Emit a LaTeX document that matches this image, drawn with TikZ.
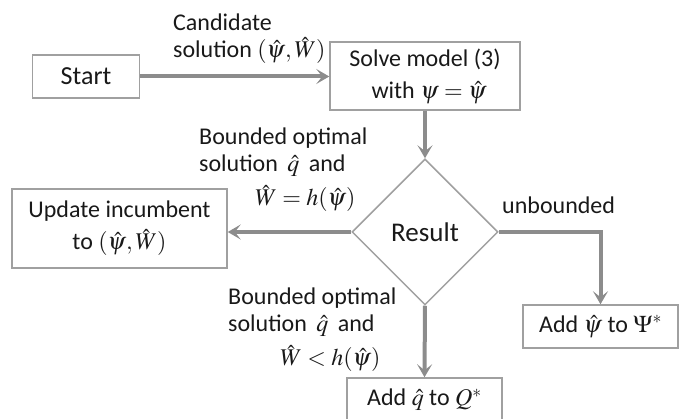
\documentclass[tikz,border=0pt]{standalone}
\usepackage{mathptmx}
\usepackage{fontspec}
\setmainfont{Carlito}
\usetikzlibrary{shapes.geometric,arrows.meta}
\definecolor{boxc}{RGB}{160,160,160}
\definecolor{arrc}{RGB}{140,140,140}
\definecolor{txt}{RGB}{25,25,25}
\begin{document}
\begin{tikzpicture}[x=1pt,y=-1pt,
  every node/.style={text=txt,font=\fontsize{24}{32}\selectfont},
  box/.style={draw=boxc,line width=1.5pt,rectangle,inner sep=0pt,align=center},
  flow/.style={draw=arrc,line width=4pt,-{Stealth[length=13pt,width=15pt,inset=6pt]}},
  lbl/.style={anchor=base west,inner sep=0pt}]
\useasboundingbox (0,0) rectangle (681,419);
\node[box,minimum width=107pt,minimum height=43pt,font=\fontsize{26}{32}\selectfont] (start) at (86,76.5) {Start};
\node[box,minimum width=190pt,minimum height=68pt] (solve) at (425,76) {Solve model (3)\\ \hspace*{8pt}with $\psi=\hat{\psi}$};
\node[diamond,draw=boxc,line width=1.5pt,minimum width=146pt,minimum height=146pt,inner sep=0pt,font=\fontsize{27}{32}\selectfont] (res) at (425,232) {Result};
\node[box,minimum width=215pt,minimum height=79pt] (upd) at (119.5,228.5) {Update incumbent\\ to $(\hat{\psi},\hat{W})$};
\node[box,minimum width=155pt,minimum height=43pt] (addpsi) at (600.5,326.5) {Add $\hat{\psi}$ to $\Psi^{*}$};
\node[box,minimum width=155pt,minimum height=44pt] (addq) at (424.5,400) {Add $\hat{q}$ to $Q^{*}$};

\draw[flow] (start.east) -- (start.east -| solve.west);
\draw[flow] (solve.south) -- (res.north);
\draw[flow] (res.west) -- (res.west -| upd.east);
\draw[flow] (res.east) -| (addpsi.north);
\draw[flow] (res.south) -- (addq.north);

\node[lbl] (c1) at (173,31) {Candidate};
\node[lbl] (c2) at (173,58) {solution $(\hat{\psi},\hat{W})$};
\node[lbl] (b1) at (199,145) {Bounded optimal};
\node[lbl] (b2) at (199,172) {solution \,$\hat{q}$\, and};
\node[lbl] (b3) at (255,206) {$\hat{W}=h(\hat{\psi})$};
\node[lbl] (u1) at (502,214) {unbounded};
\node[lbl] (d1) at (228,305) {Bounded optimal};
\node[lbl] (d2) at (228,332) {solution \,$\hat{q}$\, and};
\node[lbl] (d3) at (280,366) {$\hat{W}<h(\hat{\psi})$};
\end{tikzpicture}
\end{document}
